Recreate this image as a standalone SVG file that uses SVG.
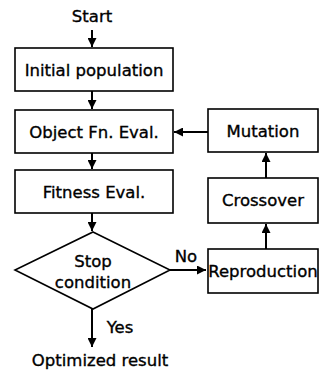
<svg xmlns="http://www.w3.org/2000/svg" width="320" height="372" viewBox="0 0 320 372">
<defs>
<marker id="ah" viewBox="0 0 10 10" refX="10" refY="5" markerWidth="4.5" markerHeight="4.5" orient="auto" markerUnits="strokeWidth">
<path d="M0,0 L10,5 L0,10 z" fill="#000"/>
</marker>
</defs>
<style>
.box{fill:#fff;stroke:#000;stroke-width:1.6}
.t{font-family:"DejaVu Sans",sans-serif;font-size:16.5px;fill:#000;stroke:#000;stroke-width:0.35;text-anchor:middle}
.c{stroke:#000;stroke-width:2;fill:none;marker-end:url(#ah)}
</style>
<rect width="320" height="372" fill="#fff"/>
<g id="connectors">
<path class="c" d="M92,30 V47"/>
<path class="c" d="M92,91 V109"/>
<path class="c" d="M92,153 V169"/>
<path class="c" d="M92,213 V231"/>
<path class="c" d="M208,132 H174"/>
<path class="c" d="M266,178 V153"/>
<path class="c" d="M266,249 V224"/>
<path class="c" d="M170,270 H206"/>
<path class="c" d="M92,309 V347"/>
<text class="t" x="186" y="262">No</text>
<text class="t" x="120" y="333">Yes</text>
</g>
<g id="start"><text class="t" x="92" y="22">Start</text></g>
<g id="init"><rect class="box" x="15" y="48" width="158" height="43"/><text class="t" x="94" y="76">Initial population</text></g>
<g id="objfn"><rect class="box" x="15" y="110" width="158" height="43"/><text class="t" x="94" y="138">Object Fn. Eval.</text></g>
<g id="fitness"><rect class="box" x="15" y="170" width="158" height="43"/><text class="t" x="94" y="198">Fitness Eval.</text></g>
<g id="stop"><path class="box" d="M93,232 L170,270 L93,309 L15,270 Z"/><text class="t" x="93" y="267">Stop</text><text class="t" x="93" y="288">condition</text></g>
<g id="mutation"><rect class="box" x="208" y="109" width="110" height="43"/><text class="t" x="263" y="137">Mutation</text></g>
<g id="crossover"><rect class="box" x="208" y="178" width="110" height="45"/><text class="t" x="263" y="206">Crossover</text></g>
<g id="repro"><rect class="box" x="208" y="249" width="110" height="44"/><text class="t" x="263" y="277">Reproduction</text></g>
<g id="result"><text class="t" x="100" y="366">Optimized result</text></g>
</svg>
